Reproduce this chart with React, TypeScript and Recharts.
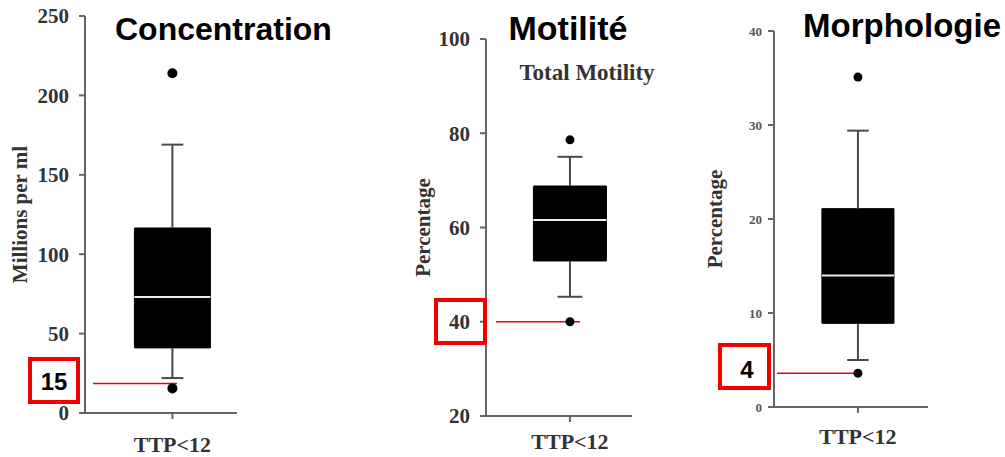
import {
  ComposedChart,
  XAxis,
  YAxis,
  Scatter,
  ReferenceArea,
  ReferenceLine,
} from "recharts";

// one group per panel
const category = "TTP<12";

const concTicks = [0, 50, 100, 150, 200, 250];
const concBox = [22, 41, 73, 116.5, 169]; // min, q1, median, q3, max
const concOutliers = [214, 15.5];
const concMarked = 18.5;

const motTicks = [20, 40, 60, 80, 100];
const motBox = [45.3, 52.9, 61.6, 68.8, 75];
const motOutliers = [78.6, 40];
const motMarked = 40;

const morphTicks = [0, 10, 20, 30, 40];
const morphBox = [5, 8.9, 14, 21.1, 29.4];
const morphOutliers = [35.1, 3.6];
const morphMarked = 3.6;

const AXIS = "#666";
const RED = "#f00000";

type PanelProps = {
  left: number;
  width: number;
  top: number;
  right: number;
  yWidth: number;
  xHeight: number;
  ticks: number[];
  box: number[];
  outliers: number[];
  marked: number;
  yLabel: string;
  labelOffset: number;
  center: number;
  half: number;
  cap: number;
  redFrom: number;
  redTo: number;
  tickFont: number;
  tickColor: string;
  tickMargin: number;
  xTickMargin: number;
  dotR: number;
};

const Panel = (p: PanelProps) => {
  const [min, q1, med, q3, max] = p.box;
  const dots = p.outliers.map((y) => ({ x: p.center, y }));
  const domain = [p.ticks[0], p.ticks[p.ticks.length - 1]];
  return (
    <div style={{ position: "absolute", left: p.left, top: 0 }}>
      <ComposedChart
        width={p.width}
        height={457}
        margin={{ top: p.top, right: p.right, bottom: 0, left: 0 }}
      >
        <XAxis
          type="number"
          dataKey="x"
          domain={[0, 1]}
          ticks={[p.center]}
          tickFormatter={() => category}
          height={p.xHeight}
          tickSize={6}
          tickMargin={p.xTickMargin}
          axisLine={{ stroke: AXIS, strokeWidth: 2 }}
          tickLine={{ stroke: AXIS, strokeWidth: 2 }}
          tick={{
            fill: "#333",
            fontSize: 22,
            fontWeight: "bold",
            fontFamily: "Liberation Serif",
          }}
        />
        <YAxis
          type="number"
          dataKey="y"
          domain={domain}
          ticks={p.ticks}
          interval={0}
          width={p.yWidth}
          tickSize={6}
          tickMargin={p.tickMargin}
          axisLine={{ stroke: AXIS, strokeWidth: 2 }}
          tickLine={{ stroke: AXIS, strokeWidth: 2 }}
          tick={{
            fill: p.tickColor,
            fontSize: p.tickFont,
            fontWeight: "bold",
            fontFamily: "Liberation Serif",
          }}
          label={{
            value: p.yLabel,
            angle: -90,
            position: "insideLeft",
            offset: p.labelOffset,
            style: {
              textAnchor: "middle",
              fill: "#333",
              fontSize: 21,
              fontWeight: "bold",
              fontFamily: "Liberation Serif",
            },
          }}
        />
        {/* whiskers */}
        <ReferenceLine
          segment={[{ x: p.center, y: q3 }, { x: p.center, y: max }]}
          stroke="#4a4a4a"
          strokeWidth={2}
        />
        <ReferenceLine
          segment={[{ x: p.center, y: min }, { x: p.center, y: q1 }]}
          stroke="#4a4a4a"
          strokeWidth={2}
        />
        <ReferenceLine
          segment={[{ x: p.center - p.cap, y: max }, { x: p.center + p.cap, y: max }]}
          stroke="#4a4a4a"
          strokeWidth={2}
        />
        <ReferenceLine
          segment={[{ x: p.center - p.cap, y: min }, { x: p.center + p.cap, y: min }]}
          stroke="#4a4a4a"
          strokeWidth={2}
        />
        {/* box */}
        <ReferenceArea
          x1={p.center - p.half}
          x2={p.center + p.half}
          y1={q1}
          y2={q3}
          fill="#000"
          fillOpacity={1}
          stroke="#000"
        />
        <ReferenceLine
          segment={[
            { x: p.center - p.half, y: med },
            { x: p.center + p.half, y: med },
          ]}
          stroke="#eee"
          strokeWidth={2}
        />
        {/* red marker */}
        <ReferenceLine
          segment={[{ x: p.redFrom, y: p.marked }, { x: p.redTo, y: p.marked }]}
          stroke={RED}
          strokeWidth={1.5}
        />
        <Scatter
          data={dots}
          isAnimationActive={false}
          shape={(s: any) => <circle cx={s.cx} cy={s.cy} r={p.dotR} fill="#000" />}
        />
      </ComposedChart>
    </div>
  );
};

const titleStyle = {
  fontFamily: "Liberation Sans",
  fontWeight: "bold",
  fill: "#000",
};

export default function App() {
  return (
    <div
      style={{
        position: "absolute",
        left: 0,
        top: 0,
        width: 1005,
        height: 457,
        background: "#fff",
        overflow: "hidden",
      }}
    >
      <Panel
        left={0}
        width={250}
        top={16}
        right={13}
        yWidth={85}
        xHeight={44}
        ticks={concTicks}
        box={concBox}
        outliers={concOutliers}
        marked={concMarked}
        yLabel="Millions per ml"
        labelOffset={20}
        center={0.575}
        half={0.25}
        cap={0.072}
        redFrom={0.053}
        redTo={0.605}
        tickFont={21}
        tickColor="#333"
        tickMargin={10}
        xTickMargin={17}
        dotR={5}
      />
      <Panel
        left={400}
        width={245}
        top={39}
        right={13}
        yWidth={86}
        xHeight={41}
        ticks={motTicks}
        box={motBox}
        outliers={motOutliers}
        marked={motMarked}
        yLabel="Percentage"
        labelOffset={23}
        center={0.575}
        half={0.25}
        cap={0.085}
        redFrom={0.068}
        redTo={0.644}
        tickFont={21}
        tickColor="#333"
        tickMargin={10}
        xTickMargin={11}
        dotR={4.5}
      />
      <Panel
        left={690}
        width={250}
        top={31}
        right={12}
        yWidth={84}
        xHeight={50}
        ticks={morphTicks}
        box={morphBox}
        outliers={morphOutliers}
        marked={morphMarked}
        yLabel="Percentage"
        labelOffset={25}
        center={0.545}
        half={0.234}
        cap={0.07}
        redFrom={0.02}
        redTo={0.54}
        tickFont={13}
        tickColor="#555"
        tickMargin={6}
        xTickMargin={15}
        dotR={4.5}
      />
      <svg
        width={1005}
        height={457}
        style={{ position: "absolute", left: 0, top: 0, pointerEvents: "none" }}
      >
        <text x={115} y={40} fontSize={32} {...titleStyle}>
          Concentration
        </text>
        <text x={568} y={40} fontSize={34} textAnchor="middle" {...titleStyle}>
          Motilité
        </text>
        <text x={902} y={37} fontSize={33} textAnchor="middle" {...titleStyle}>
          Morphologie
        </text>
        <text
          x={587}
          y={80}
          textAnchor="middle"
          fontSize={23}
          fontWeight="bold"
          fontFamily="Liberation Serif"
          fill="#333"
        >
          Total Motility
        </text>

        <rect x={30} y={359} width={48} height={43} fill="#fff" stroke={RED} strokeWidth={4} />
        <text x={54} y={390} fontSize={24} textAnchor="middle" {...titleStyle}>
          15
        </text>

        <rect x={436} y={300} width={49} height={43} fill="none" stroke={RED} strokeWidth={4} />

        <rect x={720} y={345} width={49} height={43} fill="#fff" stroke={RED} strokeWidth={4} />
        <text x={747} y={378} fontSize={24} textAnchor="middle" {...titleStyle}>
          4
        </text>
      </svg>
    </div>
  );
}
